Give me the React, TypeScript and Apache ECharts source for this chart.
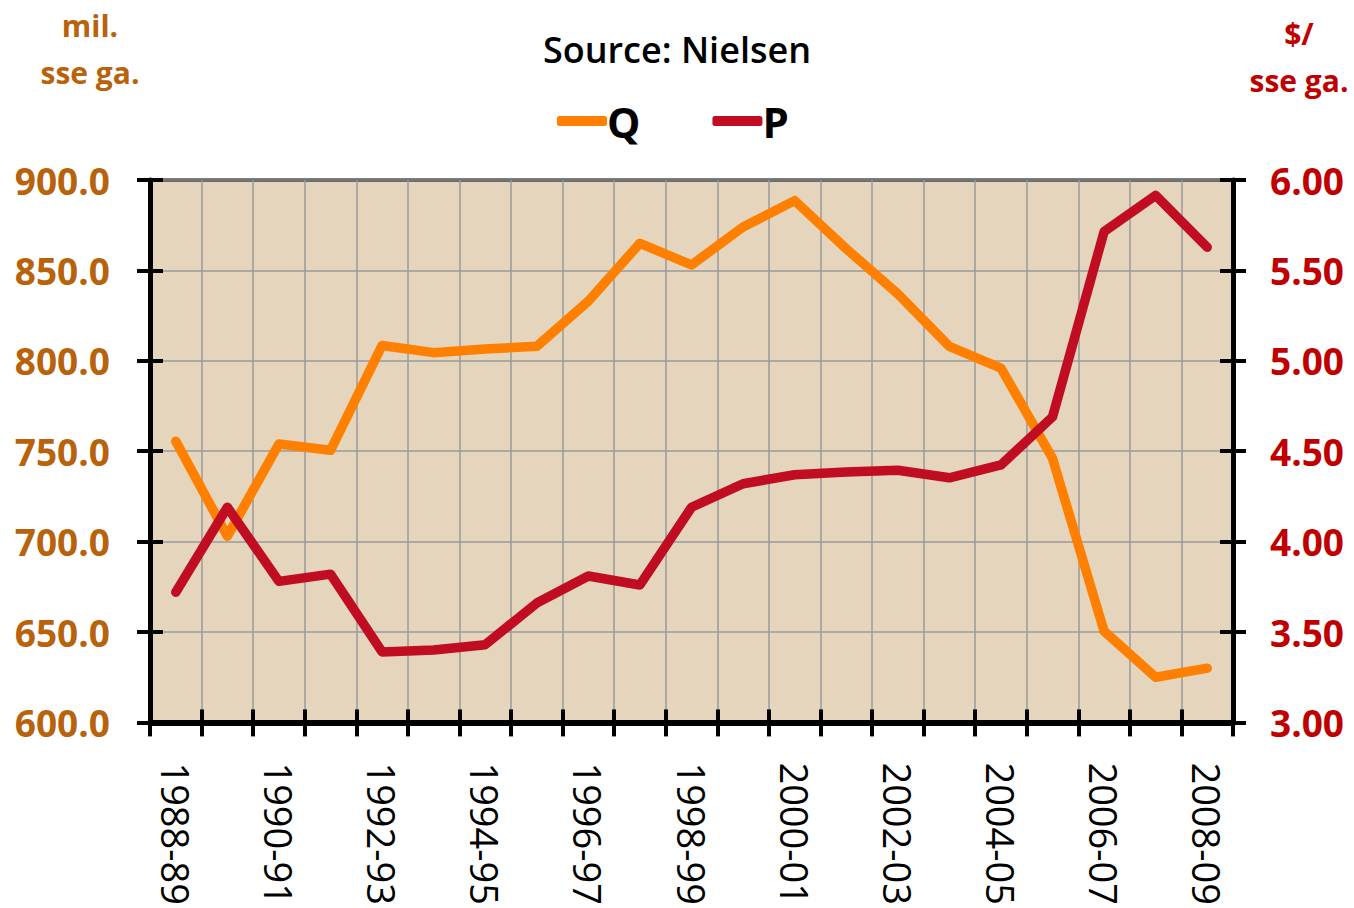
import React, { useEffect, useRef } from "react";
import * as echarts from "echarts";

const categories = [
  "1988-89", "1989-90", "1990-91", "1991-92", "1992-93", "1993-94", "1994-95",
  "1995-96", "1996-97", "1997-98", "1998-99", "1999-00", "2000-01", "2001-02",
  "2002-03", "2003-04", "2004-05", "2005-06", "2006-07", "2007-08", "2008-09",
];

const qValues = [
  755.5, 703, 754, 750.5, 808.5, 804.5, 806.5, 808, 833, 865, 853, 874, 888.6,
  862, 837, 808, 796, 746, 650.5, 625, 630,
];

const pValues = [
  3.72, 4.19, 3.78, 3.82, 3.39, 3.4, 3.43, 3.66, 3.81, 3.76, 4.19, 4.32, 4.37,
  4.385, 4.395, 4.353, 4.424, 4.69, 5.714, 5.915, 5.628,
];

const leftTicks = { min: 600, max: 900, interval: 50 };
const rightTicks = { min: 3, max: 6, interval: 0.5 };

const FONT = "Open Sans";
const LEFT_COLOR = "#B8620C";
const RIGHT_COLOR = "#C00000";
const Q_COLOR = "#FF8000";
const P_COLOR = "#C00D22";

export default function App() {
  const ref = useRef<HTMLDivElement>(null);

  useEffect(() => {
    if (!ref.current) return;
    const chart = echarts.init(ref.current, undefined, { renderer: "svg" });

    const tickStyle = { color: "#000", width: 4 };

    const option: any = {
      animation: false,
      backgroundColor: "#fff",
      textStyle: { fontFamily: FONT },
      title: {
        text: "Source: Nielsen",
        left: "center",
        top: 26,
        textStyle: { fontFamily: FONT, fontSize: 36, fontWeight: 600, color: "#000" },
      },
      legend: {
        data: ["Q", "P"],
        left: 552,
        top: 95,
        icon: "roundRect",
        itemWidth: 50,
        itemHeight: 10,
        itemGap: 72,
        textStyle: { fontFamily: FONT, fontSize: 42, fontWeight: "bold", color: "#000", padding: [0, 0, 0, -5] },
      },
      grid: {
        left: 150,
        right: 121,
        top: 180,
        bottom: 185,
        show: true,
        backgroundColor: "#E4D5BC",
        borderColor: "#000",
        borderWidth: 3,
      },
      graphic: [
        {
          type: "text",
          style: {
            text: "mil.\nsse ga.",
            fill: LEFT_COLOR,
            font: `bold 30px "${FONT}"`,
            align: "center",
            lineHeight: 47,
            x: 90,
            y: 2,
          },
          silent: true,
        },
        {
          type: "text",
          style: {
            text: "$/\nsse ga.",
            fill: RIGHT_COLOR,
            font: `bold 30px "${FONT}"`,
            align: "center",
            lineHeight: 47,
            x: 1299,
            y: 10,
          },
          silent: true,
        },
      ],
      xAxis: [
        {
          type: "category",
          data: categories,
          boundaryGap: true,
          position: "bottom",
          axisLine: { show: true, lineStyle: { color: "#000", width: 6 } },
          axisTick: { show: true, interval: 0, length: 14, lineStyle: tickStyle },
          axisLabel: {
            interval: 1,
            rotate: -90,
            margin: 40,
            fontFamily: FONT,
            fontSize: 38,
            color: "#000",
          },
          splitLine: { show: true, interval: 0, lineStyle: { color: "#9A9A9A", width: 1.5 } },
        },
        {
          type: "category",
          data: categories,
          boundaryGap: true,
          position: "bottom",
          axisLine: { show: false },
          axisTick: { show: true, inside: true, interval: 0, length: 13, lineStyle: tickStyle },
          axisLabel: { show: false },
          splitLine: { show: false },
        },
      ],
      yAxis: [
        {
          type: "value",
          position: "left",
          ...leftTicks,
          axisLine: { show: true, lineStyle: { color: "#000", width: 5 } },
          axisTick: { show: true, length: 13, lineStyle: tickStyle },
          axisLabel: {
            margin: 40,
            fontFamily: FONT,
            fontSize: 37,
            fontWeight: "bold",
            color: LEFT_COLOR,
            formatter: (v: number) => v.toFixed(1),
          },
          splitLine: { show: true, lineStyle: { color: "#9A9A9A", width: 1.5 } },
        },
        {
          type: "value",
          position: "right",
          ...rightTicks,
          axisLine: { show: true, lineStyle: { color: "#000", width: 5 } },
          axisTick: { show: true, length: 13, lineStyle: tickStyle },
          axisLabel: {
            margin: 37,
            fontFamily: FONT,
            fontSize: 37,
            fontWeight: "bold",
            color: RIGHT_COLOR,
            formatter: (v: number) => v.toFixed(2),
          },
          splitLine: { show: false },
        },
        {
          type: "value",
          position: "left",
          ...leftTicks,
          axisLine: { show: false },
          axisTick: { show: true, inside: true, length: 13, lineStyle: tickStyle },
          axisLabel: { show: false },
          splitLine: { show: false },
        },
        {
          type: "value",
          position: "right",
          ...rightTicks,
          axisLine: { show: false },
          axisTick: { show: true, inside: true, length: 13, lineStyle: tickStyle },
          axisLabel: { show: false },
          splitLine: { show: false },
        },
      ],
      series: [
        {
          name: "Q",
          type: "line",
          xAxisIndex: 0,
          yAxisIndex: 0,
          data: qValues,
          symbol: "none",
          itemStyle: { color: Q_COLOR },
          lineStyle: { color: Q_COLOR, width: 9.5, cap: "round", join: "round" },
          z: 3,
        },
        {
          name: "P",
          type: "line",
          xAxisIndex: 0,
          yAxisIndex: 1,
          data: pValues,
          symbol: "none",
          itemStyle: { color: P_COLOR },
          lineStyle: { color: P_COLOR, width: 9.5, cap: "round", join: "round" },
          z: 4,
        },
      ],
    };

    chart.setOption(option);
    return () => chart.dispose();
  }, []);

  return (
    <div
      ref={ref}
      style={{ position: "absolute", left: 0, top: 0, width: 1354, height: 908 }}
    />
  );
}
